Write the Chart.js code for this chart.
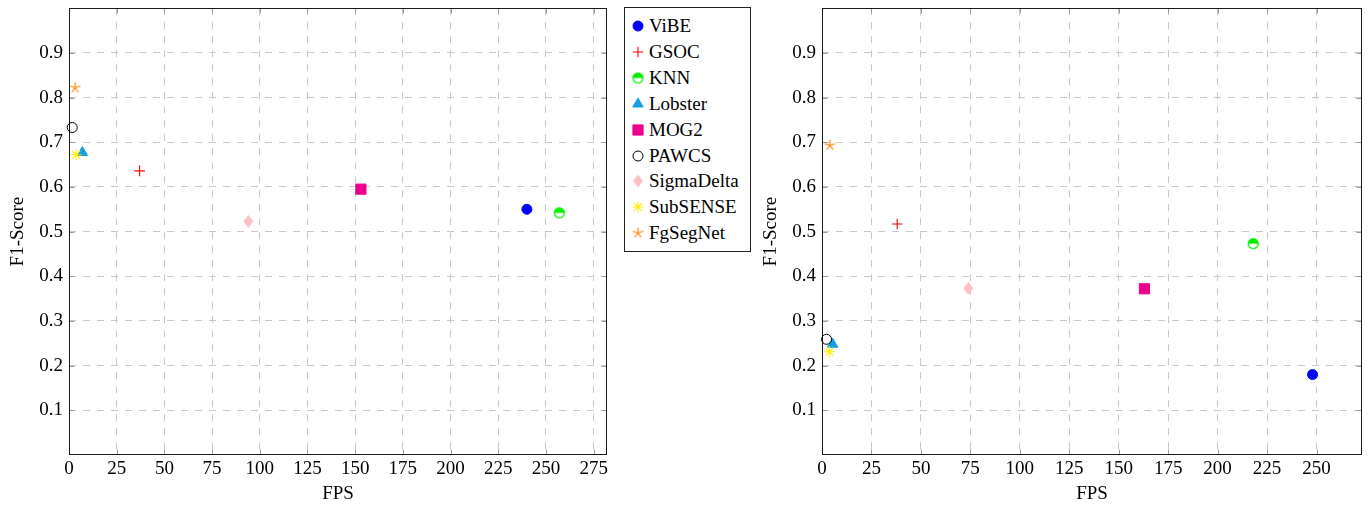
<!DOCTYPE html>
<html>
<head>
<meta charset="utf-8">
<script src="https://cdn.jsdelivr.net/npm/chart.js@4.4.1/dist/chart.umd.min.js"></script>
<style>
html,body{margin:0;padding:0;background:#fff;}
body{width:1372px;height:506px;position:relative;overflow:hidden;font-family:"Liberation Serif","Times New Roman",serif;}
#c1{position:absolute;left:0;top:0;}
#c2{position:absolute;left:753px;top:0;}
#legend{position:absolute;left:624px;top:7px;width:127px;height:245px;border:1px solid #222;box-sizing:border-box;background:#fff;}
.item{position:absolute;left:0;height:22px;width:125px;}
.item canvas{position:absolute;left:3px;top:0;}
.item span{position:absolute;left:24px;top:0;line-height:22px;font-size:19px;color:#000;white-space:nowrap;}
</style>
</head>
<body>
<canvas id="c1" width="620" height="506"></canvas>
<div id="legend"></div>
<canvas id="c2" width="619" height="506"></canvas>
<script>
// ---------------- data ----------------
const methods = ['ViBE','GSOC','KNN','Lobster','MOG2','PAWCS','SigmaDelta','SubSENSE','FgSegNet'];

// left panel
const fpsLeft = [240, 37, 257, 7, 153, 1.7, 94, 3.8, 3.2];
const f1Left  = [0.550, 0.636, 0.542, 0.677, 0.595, 0.733, 0.523, 0.672, 0.822];

// right panel
const fpsRight = [248, 38, 218, 5.4, 163, 2.3, 74, 3.7, 4];
const f1Right  = [0.180, 0.517, 0.473, 0.248, 0.372, 0.259, 0.373, 0.231, 0.693];

const xTicksLeft  = [0,25,50,75,100,125,150,175,200,225,250,275];
const xTicksRight = [0,25,50,75,100,125,150,175,200,225,250];
const yTicks = [0.1,0.2,0.3,0.4,0.5,0.6,0.7,0.8,0.9];
const xMaxLeft = 282, xMaxRight = 273;

// ---------------- marker styles ----------------
const FONT = '"Liberation Serif","Times New Roman",serif';

function halfCircle(color){
  const s = 15, c = document.createElement('canvas'); c.width = s; c.height = s;
  const g = c.getContext('2d'), m = s/2, r = 5;
  g.beginPath(); g.arc(m,m,r,0,Math.PI*2); g.fillStyle = '#fff'; g.fill();
  g.beginPath(); g.arc(m,m,r,Math.PI,0); g.closePath(); g.fillStyle = color; g.fill();
  g.beginPath(); g.arc(m,m,r,0,Math.PI*2); g.strokeStyle = color; g.lineWidth = 1.2; g.stroke();
  return c;
}
function diamond(color){
  const w = 15, h = 17, c = document.createElement('canvas'); c.width = w; c.height = h;
  const g = c.getContext('2d'), cx = w/2, cy = h/2;
  g.beginPath(); g.moveTo(cx, cy-6); g.lineTo(cx+4.5, cy); g.lineTo(cx, cy+6); g.lineTo(cx-4.5, cy); g.closePath();
  g.fillStyle = color; g.fill(); g.strokeStyle = color; g.lineWidth = 0.8; g.stroke();
  return c;
}
function star5(color){
  const s = 15, c = document.createElement('canvas'); c.width = s; c.height = s;
  const g = c.getContext('2d'), m = s/2, r = 5.5;
  g.beginPath();
  for (let k = 0; k < 5; k++){
    const a = -Math.PI/2 + k*2*Math.PI/5;
    g.moveTo(m, m); g.lineTo(m + r*Math.cos(a), m + r*Math.sin(a));
  }
  g.strokeStyle = color; g.lineWidth = 1.1; g.stroke();
  return c;
}

const colors = ['#0000ff','#ff0000','#00ee00','#14a0e0','#ec008c','#000000','#ffbfc4','#ffee00','#ff8000'];
const styles = ['circle','cross', halfCircle('#00ee00'), 'triangle','rect','circle', diamond('#ffbfc4'), 'star', star5('#ff8000')];
const radii  = [5, 5.3, 6, 6, 7.2, 5, 6, 5.5, 6];
const fills  = ['#0000ff','#ff0000','#00ee00','#14a0e0','#ec008c','rgba(0,0,0,0)','#ffbfc4','#ffee00','#ff8000'];
const bw     = [1, 1.1, 1, 1, 1, 1, 1, 1.1, 1];

// ---------------- frame + inner ticks ----------------
const framePlugin = {
  id: 'frame',
  beforeDatasetsDraw(chart){
    const {ctx, chartArea: a, scales: {x, y}} = chart;
    const L = Math.round(a.left)+0.5, R = Math.round(a.right)-0.5, T = Math.round(a.top)+0.5, B = Math.round(a.bottom)-0.5;
    ctx.save();
    ctx.strokeStyle = '#9a9a9a'; ctx.lineWidth = 1; ctx.setLineDash([]);
    ctx.beginPath();
    x.ticks.forEach(t => {
      const px = Math.round(x.getPixelForValue(t.value)) + 0.5;
      ctx.moveTo(px, B); ctx.lineTo(px, B-5);
      ctx.moveTo(px, T); ctx.lineTo(px, T+5);
    });
    y.ticks.forEach(t => {
      const py = Math.round(y.getPixelForValue(t.value)) + 0.5;
      ctx.moveTo(L, py); ctx.lineTo(L+5, py);
      ctx.moveTo(R, py); ctx.lineTo(R-5, py);
    });
    ctx.stroke();
    ctx.strokeStyle = '#1a1a1a';
    ctx.strokeRect(L, T, R-L, B-T);
    ctx.restore();
  }
};

function makeChart(id, xs, ys, xMax, xTicks, padRight){
  const datasets = methods.map((name, i) => ({
    label: name,
    data: [{x: xs[i], y: ys[i]}],
    pointStyle: styles[i],
    pointRadius: radii[i],
    pointBackgroundColor: fills[i],
    pointBorderColor: colors[i],
    pointBorderWidth: bw[i],
    backgroundColor: fills[i],
    borderColor: colors[i],
    showLine: false,
    clip: false,
    order: methods.length - i
  }));
  return new Chart(document.getElementById(id), {
    type: 'scatter',
    data: {datasets},
    options: {
      responsive: false, animation: false, events: [],
      layout: {padding: {top: 7, right: padRight, left: 0, bottom: 0}},
      plugins: {legend: {display: false}, tooltip: {enabled: false}},
      scales: {
        x: {
          type: 'linear', min: 0, max: xMax,
          afterBuildTicks: s => { s.ticks = xTicks.map(v => ({value: v})); },
          afterFit: s => { s.height = 51; s.paddingLeft = 0; s.paddingRight = 0; },
          grid: {color: '#c8c8c8', lineWidth: 1, drawTicks: false},
          border: {display: false, dash: [7, 7]},
          ticks: {padding: 3, color: '#000', font: {family: FONT, size: 19}, maxRotation: 0, autoSkip: false,
                  callback: v => String(v)},
          title: {display: true, text: 'FPS', color: '#000', font: {family: FONT, size: 19}, padding: {top: 0, bottom: 1}}
        },
        y: {
          type: 'linear', min: 0, max: 1,
          afterBuildTicks: s => { s.ticks = yTicks.map(v => ({value: v})); },
          afterFit: s => { s.width = 69; s.paddingTop = 0; s.paddingBottom = 0; },
          grid: {color: '#c8c8c8', lineWidth: 1, drawTicks: false},
          border: {display: false, dash: [7, 7]},
          ticks: {padding: 6, color: '#000', font: {family: FONT, size: 19}, autoSkip: false,
                  callback: v => Number(v).toFixed(1)},
          title: {display: true, text: 'F1-Score', color: '#000', font: {family: FONT, size: 19}, padding: {top: 7, bottom: 0}}
        }
      }
    },
    plugins: [framePlugin]
  });
}

makeChart('c1', fpsLeft, f1Left, xMaxLeft, xTicksLeft, 13);
makeChart('c2', fpsRight, f1Right, xMaxRight, xTicksRight, 10);

// ---------------- legend ----------------
const legend = document.getElementById('legend');
methods.forEach((name, i) => {
  const item = document.createElement('div');
  item.className = 'item';
  item.style.top = (7 + i*25.9) + 'px';
  const c = document.createElement('canvas'); c.width = 20; c.height = 22;
  const g = c.getContext('2d');
  g.fillStyle = fills[i]; g.strokeStyle = colors[i]; g.lineWidth = bw[i];
  if (Chart.helpers && Chart.helpers.drawPoint) {
    Chart.helpers.drawPoint(g, {pointStyle: styles[i], radius: radii[i], rotation: 0, borderWidth: bw[i]}, 10, 11);
  }
  const t = document.createElement('span'); t.textContent = name;
  item.appendChild(c); item.appendChild(t);
  legend.appendChild(item);
});
</script>
</body>
</html>
